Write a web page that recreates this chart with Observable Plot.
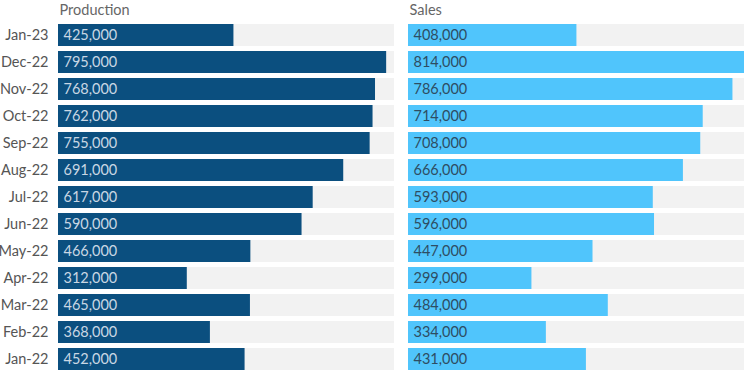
<!DOCTYPE html>
<html>
<head>
<meta charset="utf-8">
<script src="https://cdn.jsdelivr.net/npm/d3@7"></script>
<script src="https://cdn.jsdelivr.net/npm/@observablehq/plot@0.6"></script>
<style>
  body { margin: 0; background: #fff; }
  #chart svg { display: block; }
</style>
</head>
<body>
<div id="chart"></div>
<script>
const months = ["Jan-23","Dec-22","Nov-22","Oct-22","Sep-22","Aug-22","Jul-22","Jun-22","May-22","Apr-22","Mar-22","Feb-22","Jan-22"];
const production = [425000,795000,768000,762000,755000,691000,617000,590000,466000,312000,465000,368000,452000];
const sales = [408000,814000,786000,714000,708000,666000,593000,596000,447000,299000,484000,334000,431000];
const seriesNames = ["Production","Sales"];
const colors = ["#0b4f7f","#50c5fc"];
const labelColors = ["#c9d7e4","#2e4d63"];

const data = [];
months.forEach((m, i) => {
  data.push({month: m, series: "Production", value: production[i]});
  data.push({month: m, series: "Sales", value: sales[i]});
});
const xMax = d3.max(data, d => d.value);
const bg = [];
months.forEach(m => seriesNames.forEach(s => bg.push({month: m, series: s, value: xMax})));
const titles = seriesNames.map(s => ({series: s}));

const chart = Plot.plot({
  width: 750,
  height: 375,
  marginLeft: 58,
  marginRight: 6,
  marginTop: 22,
  marginBottom: 2,
  style: {fontFamily: "Lato, 'Source Sans Pro', sans-serif", fontSize: "14px", background: "#fff", overflow: "visible"},
  fx: {domain: seriesNames, paddingInner: 0.04, paddingOuter: 0, axis: null},
  x: {domain: [0, xMax], axis: null},
  y: {domain: months, paddingInner: 0.18, paddingOuter: 0.09, label: null},
  color: {domain: seriesNames, range: colors},
  marks: [
    Plot.barX(bg, {x: "value", y: "month", fx: "series", fill: "#f2f2f2"}),
    Plot.barX(data, {x: "value", y: "month", fx: "series", fill: "series"}),
    Plot.text(data, {
      x: 0, y: "month", fx: "series",
      text: d => d3.format(",")(d.value),
      textAnchor: "start", dx: 5, fontSize: 14.5,
      fill: d => labelColors[seriesNames.indexOf(d.series)]
    }),
    Plot.text(titles, {
      fx: "series", text: "series", frameAnchor: "top-left",
      textAnchor: "start", lineAnchor: "bottom", dy: -8, dx: 1,
      fontSize: 14.5, fill: "#666"
    }),
    Plot.axisY({tickSize: 0, tickPadding: 10, fontSize: 14.5, color: "#555", label: null})
  ]
});
document.getElementById("chart").appendChild(chart);
</script>
</body>
</html>
